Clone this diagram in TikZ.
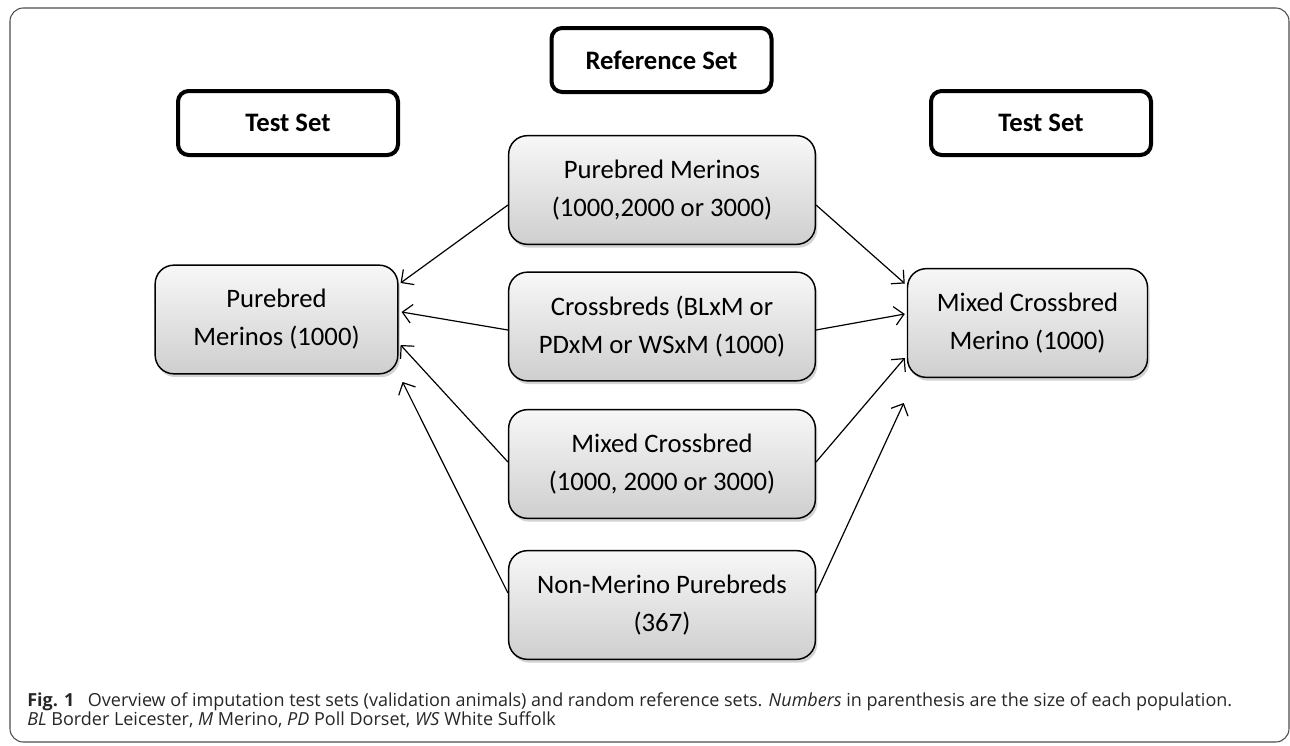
\documentclass[tikz,border=0pt]{standalone}
\usepackage{fontspec}
\setmainfont{Carlito}
\newfontfamily\capfont{Open Sans}
\usetikzlibrary{arrows.meta,shadows,calc}
\begin{document}
\begin{tikzpicture}[x=0.75pt,y=-0.75pt,
  refbox/.style={draw=black, line width=1.1pt, rounded corners=14pt,
    top color=gray!6, bottom color=gray!38,
    minimum width=230pt, minimum height=81.5pt, align=center,
    font=\fontsize{20}{28.5}\selectfont,
    drop shadow={shadow xshift=1.5pt, shadow yshift=-2.5pt, opacity=0.35, fill=gray}},
  testbox/.style={draw=black, line width=3pt, rounded corners=8pt, fill=white,
    minimum width=165pt, minimum height=48pt,
    font=\bfseries\fontsize{20}{24}\selectfont},
  conn/.style={-{Straight Barb[length=7pt,width=14pt]}, line width=0.9pt},
  captext/.style={anchor=base west, inner sep=0pt, font=\capfont\fontsize{13.5}{14.25}\selectfont, text=black!85}
]
\useasboundingbox (0,0) rectangle (1290,746);
\draw[gray!60!black, line width=0.8pt, rounded corners=10pt] (10,8) rectangle (1289,742);

\node[testbox] (ts1) at (288,123) {Test Set};
\node[testbox] (rs)  at (661.5,60) {Reference Set};
\node[testbox] (ts2) at (1041,123) {Test Set};

\node[refbox] (pm) at (662,190) {Purebred Merinos\\(1000,2000 or 3000)};
\node[refbox] (cb) at (662,326.5) {Crossbreds (BLxM or\\PDxM or WSxM (1000)};
\node[refbox] (mc) at (662,464) {Mixed Crossbred\\(1000, 2000 or 3000)};
\node[refbox] (nm) at (662,605) {Non-Merino Purebreds\\(367)};

\node[refbox, minimum width=182pt] (lpm) at (276.5,319.5) {Purebred\\Merinos (1000)};
\node[refbox, minimum width=180pt] (rmc) at (1027.5,323) {Mixed Crossbred\\Merino (1000)};

% left arrows
\draw[conn] ($(pm.west)+(0,15)$) -- ($(lpm.east)+(2,-36.5)$);
\draw[conn] ($(cb.west)+(0,3.5)$) -- ($(lpm.east)+(3,-7.5)$);
\draw[conn] ($(mc.west)+(0,-2)$) -- ($(lpm.east)+(2,25.5)$);
\draw[conn] ($(nm.west)+(0,-12)$) -- ($(lpm.east)+(4,62.5)$);
% right arrows
\draw[conn] ($(pm.east)+(0,15)$) -- ($(rmc.west)+(-2,-39.5)$);
\draw[conn] ($(cb.east)+(0,3.5)$) -- ($(rmc.west)+(-2,-9)$);
\draw[conn] ($(mc.east)+(0,-2)$) -- ($(rmc.west)+(-2,35)$);
\draw[conn] ($(nm.east)+(0,-12)$) -- ($(rmc.west)+(-3,80)$);

\node[captext] (cap1) at (27,706) {\textbf{Fig. 1}\hspace{0.75em}Overview of imputation test sets (validation animals) and random reference sets. \textit{Numbers} in parenthesis are the size of each population.};
\node[captext] (cap2) at (27,725) {\textit{BL} Border Leicester, \textit{M} Merino, \textit{PD} Poll Dorset, \textit{WS} White Suffolk};
\end{tikzpicture}
\end{document}
